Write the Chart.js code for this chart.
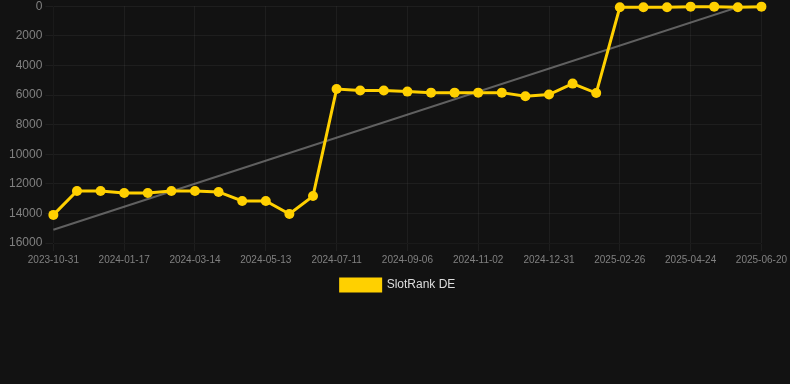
<!DOCTYPE html>
<html>
<head>
<meta charset="utf-8">
<script src="https://cdn.jsdelivr.net/npm/chart.js@4"></script>
<style>
  html, body { margin: 0; padding: 0; background: #121212; }
  #wrap { width: 790px; height: 305px; margin-top: -4px; position: relative; }
</style>
</head>
<body>
<div id="wrap"><canvas id="rankChart"></canvas></div>
<script>
// dates on the x axis (only every 3rd one is shown)
var dates = [
  '2023-10-31','2023-11-26','2023-12-22','2024-01-17','2024-02-05','2024-02-24',
  '2024-03-14','2024-04-03','2024-04-23','2024-05-13','2024-06-01','2024-06-21',
  '2024-07-11','2024-07-30','2024-08-18','2024-09-06','2024-09-25','2024-10-14',
  '2024-11-02','2024-11-21','2024-12-11','2024-12-31','2025-01-19','2025-02-07',
  '2025-02-26','2025-03-17','2025-04-05','2025-04-24','2025-05-13','2025-06-01',
  '2025-06-20'
];
// rank values
var slotRank = [
  14100, 12490, 12490, 12620, 12620, 12490, 12490, 12550, 13160, 13160, 14040,
  12830, 5600, 5700, 5700, 5770, 5840, 5840, 5840, 5840, 6080, 5970, 5230, 5870,
  70, 70, 70, 30, 30, 70, 30
];
// trend line, start and end only
var trendStart = 15100;
var trendEnd = -450;
var yTicks = { min: 0, max: 16000, step: 2000 };

var trendData = [
  { x: dates[0], y: trendStart },
  { x: dates[dates.length - 1], y: trendEnd }
];

const ctx = document.getElementById('rankChart');
new Chart(ctx, {
  type: 'line',
  data: {
    labels: dates,
    datasets: [{
      label: 'SlotRank DE',
      data: slotRank,
      borderColor: '#ffd000',
      backgroundColor: '#ffd000',
      borderWidth: 3,
      pointRadius: 5,
      pointBorderWidth: 0,
      pointHoverRadius: 6,
      pointBackgroundColor: '#ffd000',
      pointBorderColor: '#ffd000',
      tension: 0,
      clip: 8
    }, {
      label: 'trend',
      data: trendData,
      borderColor: 'rgba(160,160,160,0.55)',
      borderWidth: 2,
      pointRadius: 0,
      fill: false
    }]
  },
  options: {
    responsive: true,
    maintainAspectRatio: false,
    animation: false,
    layout: { padding: { left: 6 } },
    plugins: {
      legend: {
        position: 'bottom',
        labels: {
          color: '#dddddd',
          font: { size: 12, family: 'Liberation Sans, Arial, sans-serif' },
          filter: function (item) { return item.text !== 'trend'; }
        }
      },
      tooltip: { enabled: false }
    },
    scales: {
      x: {
        grid: { color: 'rgba(255,255,255,0.05)' },
        ticks: {
          color: '#808080',
          maxRotation: 0,
          autoSkip: true,
          maxTicksLimit: 11,
          font: { size: 10, family: 'Liberation Sans, Arial, sans-serif' }
        }
      },
      y: {
        reverse: true,
        min: yTicks.min,
        max: yTicks.max,
        grid: { color: 'rgba(255,255,255,0.05)' },
        ticks: {
          stepSize: yTicks.step,
          color: '#808080',
          font: { size: 12, family: 'Liberation Sans, Arial, sans-serif' },
          callback: function (v) { return String(v); }
        }
      }
    }
  }
});
</script>
</body>
</html>
